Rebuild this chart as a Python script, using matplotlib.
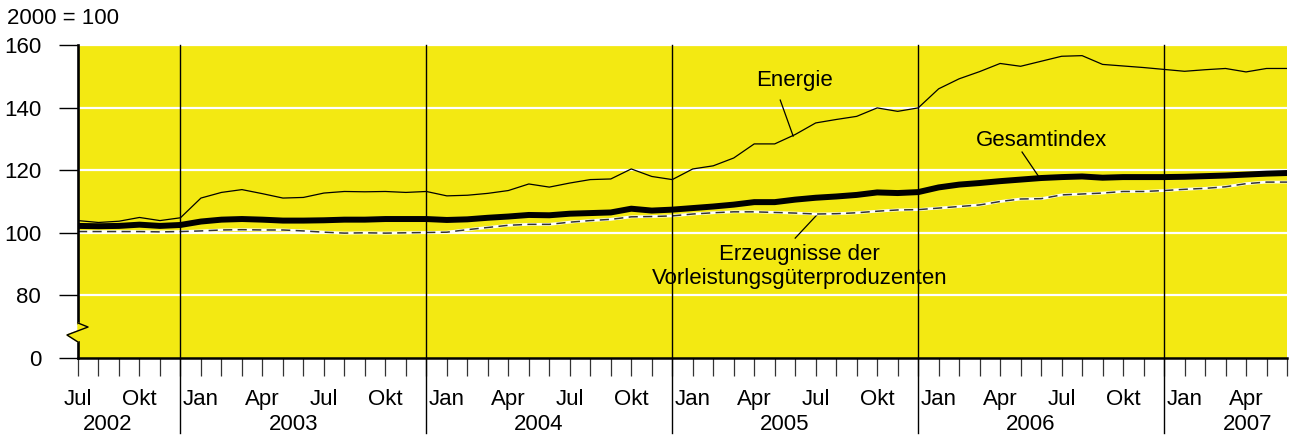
import matplotlib.pyplot as plt
import matplotlib.transforms as mtransforms
import numpy as np

# monthly index values, Jul 2002 .. Jun 2007 (2000 = 100)
energie = [103.9, 103.3, 103.7, 104.9, 103.9, 104.8, 111.1, 112.9, 113.8, 112.5,
           111.1, 111.3, 112.7, 113.2, 113.1, 113.2, 112.9, 113.2, 111.8, 112.0,
           112.6, 113.5, 115.6, 114.6, 115.9, 117.0, 117.2, 120.4, 118.0, 117.0,
           120.4, 121.4, 123.9, 128.4, 128.4, 131.4, 135.1, 136.2, 137.2, 139.9,
           138.8, 139.9, 146.0, 149.2, 151.5, 154.1, 153.2, 154.8, 156.4, 156.6,
           153.8, 153.3, 152.8, 152.2, 151.6, 152.1, 152.5, 151.4, 152.5, 152.5]
gesamt = [102.2, 102.1, 102.2, 102.6, 102.2, 102.5, 103.6, 104.2, 104.4, 104.2,
          103.9, 103.9, 104.0, 104.2, 104.2, 104.4, 104.4, 104.4, 104.1, 104.3,
          104.8, 105.2, 105.7, 105.6, 106.1, 106.3, 106.5, 107.7, 107.1, 107.4,
          107.9, 108.4, 109.0, 109.8, 109.8, 110.6, 111.2, 111.6, 112.1, 112.9,
          112.7, 113.0, 114.5, 115.4, 115.9, 116.5, 117.0, 117.5, 117.8, 118.0,
          117.6, 117.8, 117.8, 117.8, 117.9, 118.1, 118.3, 118.6, 118.9, 119.1]
vorleistung = [100.4, 100.4, 100.4, 100.4, 100.3, 100.4, 100.6, 100.9, 101.0, 100.9,
               100.9, 100.6, 100.2, 99.9, 100.0, 99.9, 100.0, 100.1, 100.2, 101.0,
               101.7, 102.4, 102.7, 102.7, 103.4, 103.9, 104.3, 105.1, 105.2, 105.4,
               106.0, 106.4, 106.7, 106.7, 106.5, 106.3, 106.0, 106.1, 106.4, 106.9,
               107.3, 107.4, 107.9, 108.4, 108.9, 110.0, 110.8, 110.9, 112.1, 112.4,
               112.7, 113.2, 113.2, 113.5, 113.9, 114.2, 114.7, 115.7, 116.2, 116.2]

month_names = ['Jan', 'Feb', 'Mär', 'Apr', 'Mai', 'Jun',
               'Jul', 'Aug', 'Sep', 'Okt', 'Nov', 'Dez']
shown_months = ['Jan', 'Apr', 'Jul', 'Okt']
years = ['2002', '2003', '2004', '2005', '2006', '2007']
ytick_vals = [60, 80, 100, 120, 140, 160]
ytick_labels = ['0', '80', '100', '120', '140', '160']

YELLOW = '#f3e912'
FS = 16
plt.rcParams['font.family'] = ['Liberation Sans', 'DejaVu Sans']

n = len(gesamt)
x = np.arange(n)
labels = [month_names[(6 + i) % 12] for i in range(n)]

fig = plt.figure(figsize=(12.93, 4.36), dpi=100)
ax = fig.add_axes([78 / 1293, 1 - 358 / 436, 1209 / 1293, 313 / 436])
ax.set_facecolor(YELLOW)
ax.set_xlim(0, n - 1)
ax.set_ylim(60, 160)

for v in ytick_vals[1:]:
    ax.axhline(v, color='white', lw=1.6, zorder=1)

ax.plot(x, energie, color='black', lw=0.9, zorder=3)
ax.plot(x, vorleistung, color='white', lw=2.0, zorder=3)
ax.plot(x, vorleistung, color='#333333', lw=1.1, dashes=(6, 3.5), zorder=3)
ax.plot(x, gesamt, color='black', lw=4.3, solid_capstyle='round', zorder=4)

# year separators (December positions), running down into the label area
trans = mtransforms.blended_transform_factory(ax.transData, ax.transAxes)
for i in range(n):
    if labels[i] == 'Dez':
        ax.plot([i, i], [-0.24, 1], color='black', lw=1.0, transform=trans,
                clip_on=False, zorder=5)

# spines
for s in ['top', 'right', 'left']:
    ax.spines[s].set_visible(False)
ax.spines['bottom'].set_linewidth(1.8)
ax.spines['bottom'].set_zorder(6)

# left axis with break mark
ax.plot([0, 0], [0, 0.0511], color='black', lw=1.9, transform=ax.transAxes,
        clip_on=False, zorder=6)
ax.plot([0, 0], [0.1118, 1], color='black', lw=1.9, transform=ax.transAxes,
        clip_on=False, zorder=6)
bx = [0, 0.0083, -0.0091, 0]
by = [0.1118, 0.0990, 0.0735, 0.0511]
ax.fill(bx, by, color=YELLOW, transform=ax.transAxes, clip_on=False, zorder=6)
ax.plot(bx, by, color='black', lw=1.0, transform=ax.transAxes,
        clip_on=False, zorder=7)

# y axis ticks
ax.set_yticks(ytick_vals)
ax.set_yticklabels(ytick_labels, fontsize=FS)
ax.tick_params(axis='y', length=13.5, width=1.0, pad=13, color='black')

# x axis: a tick every month, labels as text
ax.set_xticks(x)
ax.set_xticklabels([])
ax.tick_params(axis='x', length=13, width=0.9, color='#333333')
for i in range(n):
    if labels[i] in shown_months:
        ax.text(i, -0.131, labels[i], transform=trans, ha='center',
                va='center', fontsize=FS)
year_pos = [1.45, 10.5, 22.5, 34.5, 46.5, 57.1]
for yr, p in zip(years, year_pos):
    ax.text(p, -0.214, yr, transform=trans, ha='center', va='center',
            fontsize=FS)

fig.text(7 / 1293, 1 - 18 / 436, '2000 = 100', ha='left', va='center',
         fontsize=FS)

# series labels with leader lines
ax.text(34.95, 148.5, 'Energie', ha='center', va='center', fontsize=FS)
ax.plot([34.27, 34.9], [142.4, 130.9], color='black', lw=0.9)
ax.text(47.0, 129.6, 'Gesamtindex', ha='center', va='center', fontsize=FS)
ax.plot([46.07, 46.9], [125.8, 117.8], color='black', lw=0.9)
ax.text(35.2, 89.2, 'Erzeugnisse der\nVorleistungsgüterproduzenten',
        ha='center', va='center', fontsize=FS, linespacing=1.15)
ax.plot([35.0, 36.1], [98.3, 106.0], color='black', lw=0.9)

fig.savefig('out.png', dpi=100)
